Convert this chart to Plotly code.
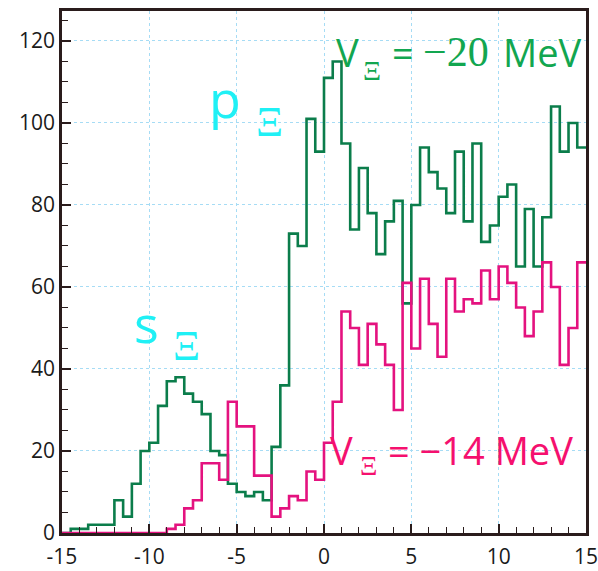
import plotly.graph_objects as go

# bin edges: -15 to 15, width 0.5
bin_left = [-15 + 0.5 * i for i in range(60)]
bin_right_end = 15

green_counts = [0, 1, 1, 2, 2, 2, 8, 4, 12, 20,
                22, 31, 37, 38, 34, 32, 29, 20, 19, 12,
                10, 9, 10, 8, 21, 36, 73, 70, 101, 93,
                111, 115, 95, 74, 89, 78, 68, 76, 81, 56,
                80, 94, 88, 84, 78, 93, 76, 95, 71, 75,
                82, 85, 65, 79, 65, 77, 104, 93, 100, 94]

magenta_counts = [0, 0, 0, 0, 0, 0, 0, 0, 0, 0,
                  0, 0, 1, 2, 6, 8, 17, 17, 13, 32,
                  26, 26, 14, 14, 4, 6, 9, 8, 15, 13,
                  22, 32, 54, 50, 41, 51, 46, 41, 30, 61,
                  45, 62, 51, 43, 62, 54, 57, 56, 64, 57,
                  65, 61, 55, 48, 54, 66, 60, 41, 50, 66]

x_ticks = [-15, -10, -5, 0, 5, 10, 15]
y_ticks = [0, 20, 40, 60, 80, 100, 120]

GREEN_LINE = "#0b7d4b"
MAG_LINE = "#e4127f"
GREEN_TXT = "#12a650"
MAG_TXT = "#f5106e"
CYAN = "#1ff0f5"
FRAME = "#2a1c1c"
GRID = "#a6dcf5"

fig = go.Figure()

for counts, col in [(green_counts, GREEN_LINE), (magenta_counts, MAG_LINE)]:
    xs = bin_left + [bin_right_end]
    ys = counts + [counts[-1]]
    fig.add_trace(go.Scatter(x=xs, y=ys, mode="lines",
                             line=dict(color=col, width=2.6, shape="hv"),
                             showlegend=False, hoverinfo="skip"))

SANS = "Open Sans"
SERIF = "Liberation Serif"

def label(x, y, text, color, size, family=SANS):
    fig.add_annotation(x=x, y=y, xref="x", yref="y", text=text, showarrow=False,
                       xanchor="left", yanchor="middle", borderpad=0,
                       font=dict(family=family, size=size, color=color))

# V_Xi = -20 MeV (green)
label(0.65, 117.2, "V", GREEN_TXT, 38)
label(2.2, 112.7, "Ξ", GREEN_TXT, 28, family=SERIF)
label(3.85, 117.2, "=", GREEN_TXT, 38)
label(5.6, 117.2, "−20", GREEN_TXT, 42, family=SERIF)
label(10.2, 117.2, "MeV", GREEN_TXT, 38)

# V_Xi = -14 MeV (magenta)
label(0.3, 20.3, "V", MAG_TXT, 38)
label(2.0, 16.3, "Ξ", MAG_TXT, 27, family=SERIF)
label(3.6, 20.3, "= −14 MeV", MAG_TXT, 38)

# p_Xi and s_Xi (cyan)
label(-6.65, 106.2, "p", CYAN, 52)
label(-3.95, 100.2, "Ξ", CYAN, 42, family=SERIF)
label(-10.95, 51.3, "s", CYAN, 52)
label(-8.7, 45.6, "Ξ", CYAN, 42, family=SERIF)

axis_common = dict(showline=True, linecolor=FRAME, linewidth=2.5, mirror=True,
                   showgrid=True, gridcolor=GRID, griddash="dot", gridwidth=1,
                   zeroline=False, ticks="inside", tickcolor=FRAME, automargin=False,
                   ticklabeloverflow="allow",
                   tickfont=dict(family=SANS, size=21, color="#1a1a1a"))

fig.update_xaxes(range=[-15, 15], tickvals=x_ticks, ticktext=[str(v) for v in x_ticks],
                 ticklen=9, tickwidth=1.5, ticklabelstandoff=3,
                 minor=dict(dtick=1, ticks="inside", ticklen=6, tickcolor=FRAME, tickwidth=1.2,
                            showgrid=False),
                 **axis_common)
fig.update_yaxes(range=[0, 127.3], tickvals=y_ticks, ticktext=[str(v) for v in y_ticks],
                 ticklen=9, tickwidth=1.5,
                 minor=dict(dtick=5, tick0=0, ticks="inside", ticklen=6, tickcolor=FRAME,
                            tickwidth=1.2, showgrid=False),
                 **axis_common)

fig.update_layout(width=598, height=571,
                  margin=dict(l=62, r=12, t=11, b=38, autoexpand=False),
                  plot_bgcolor="white", paper_bgcolor="white")

fig.write_html("out.html", config={"displayModeBar": False},
               post_script="document.body.style.margin='0';document.body.style.overflow='hidden';")
